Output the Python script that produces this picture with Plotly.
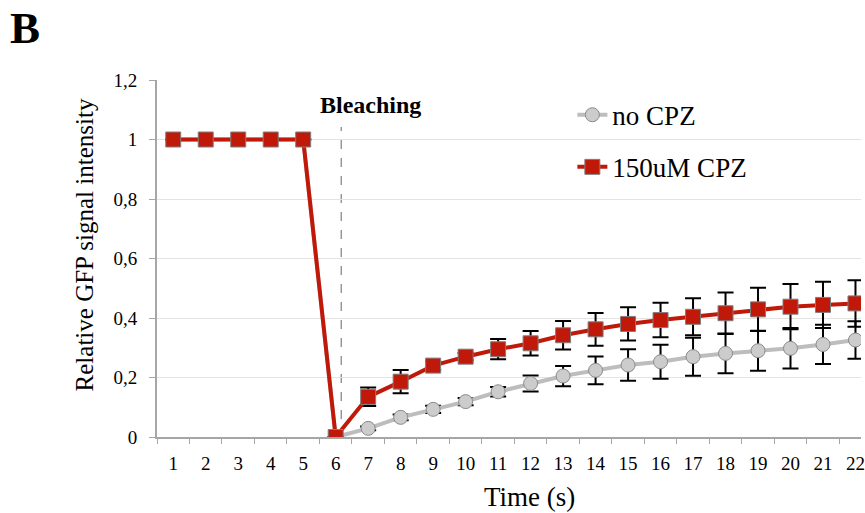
import plotly.graph_objects as go

# ---- data ----
time_s = [str(i) for i in range(1, 23)]
no_cpz = [1, 1, 1, 1, 1, 0, 0.029, 0.066, 0.093, 0.119, 0.152, 0.180, 0.205, 0.224,
          0.242, 0.253, 0.270, 0.281, 0.290, 0.298, 0.311, 0.326]
no_cpz_err = [0, 0, 0, 0, 0, 0, 0.006, 0.01, 0.012, 0.012, 0.016, 0.027, 0.034, 0.047,
              0.053, 0.057, 0.064, 0.067, 0.067, 0.068, 0.066, 0.063]
cpz150 = [1, 1, 1, 1, 1, 0, 0.135, 0.186, 0.240, 0.270, 0.295, 0.315, 0.342, 0.362,
          0.380, 0.393, 0.404, 0.416, 0.429, 0.438, 0.444, 0.449]
cpz150_err = [0, 0, 0, 0, 0, 0, 0.031, 0.039, 0.015, 0.012, 0.034, 0.041, 0.048, 0.055,
              0.056, 0.058, 0.062, 0.070, 0.073, 0.076, 0.078, 0.078]
y_tickvals = [0, 0.2, 0.4, 0.6, 0.8, 1.0, 1.2]
y_ticktext = ["0", "0,2", "0,4", "0,6", "0,8", "1", "1,2"]
series_names = ["no CPZ", "150uM CPZ"]
bleach_x = 5.17  # category index position of the bleaching line

FONT = "Liberation Serif, Times New Roman, serif"

fig = go.Figure()
fig.add_trace(go.Scatter(
    x=time_s, y=no_cpz, name=series_names[0], mode="lines+markers",
    line=dict(color="#BDBDBD", width=4),
    marker=dict(symbol="circle", size=14, color="#CCCCCC", line=dict(color="#8A8A8A", width=1)),
    error_y=dict(type="data", array=no_cpz_err, visible=True, color="black", thickness=2, width=8),
    legendgroup="a",
))
fig.add_trace(go.Scatter(
    x=time_s, y=cpz150, name=series_names[1], mode="lines+markers",
    line=dict(color="#C0190A", width=4),
    marker=dict(symbol="square", size=15, color="#C0190A", line=dict(color="#7F7F7F", width=1)),
    error_y=dict(type="data", array=cpz150_err, visible=True, color="black", thickness=2, width=8),
    legendgroup="b",
))

fig.add_shape(type="line", xref="x", yref="y", x0=bleach_x, x1=bleach_x, y0=0, y1=1.042,
              line=dict(color="#666666", width=1, dash="dash"), layer="below")

fig.add_annotation(text="<b>Bleaching</b>", xref="x", yref="y", x=6.06, y=1.115,
                   showarrow=False, font=dict(family=FONT, size=24, color="black"))
fig.add_annotation(text="<b>B</b>", xref="paper", yref="paper", x=-0.212, y=1.145,
                   xanchor="left", yanchor="middle", showarrow=False,
                   font=dict(family=FONT, size=45, color="black"))
fig.add_annotation(text="Time (s)", xref="paper", yref="paper", x=0.529, y=-0.168,
                   xanchor="center", yanchor="middle", showarrow=False,
                   font=dict(family=FONT, size=27, color="black"))
fig.add_annotation(text="Relative GFP signal intensity", xref="paper", yref="paper",
                   x=-0.103, y=0.538, textangle=-90, xanchor="center", yanchor="middle",
                   showarrow=False, font=dict(family=FONT, size=25, color="black"))

fig.update_layout(
    width=865, height=513,
    margin=dict(l=157, r=0, t=80, b=76),
    paper_bgcolor="white", plot_bgcolor="white",
    font=dict(family=FONT, size=19, color="black"),
    showlegend=True,
    legend=dict(x=0.59, y=0.97, xanchor="left", yanchor="top",
                font=dict(family=FONT, size=27, color="black"),
                bgcolor="rgba(0,0,0,0)", traceorder="grouped", tracegroupgap=14),
)
fig.update_xaxes(
    type="category", range=[-0.5, 21.17], tickson="boundaries",
    showgrid=False, showline=True, linecolor="#A6A6A6", linewidth=2,
    ticks="outside", ticklen=5, tickcolor="#A6A6A6", tickwidth=1,
    ticklabelstandoff=8, tickfont=dict(family=FONT, size=19), zeroline=False,
)
fig.update_yaxes(
    range=[0, 1.2], tickvals=y_tickvals, ticktext=y_ticktext,
    showgrid=True, gridcolor="#E3E3E3", gridwidth=1,
    showline=True, linecolor="#A6A6A6", linewidth=2,
    ticks="outside", ticklen=6, tickcolor="#A6A6A6", tickwidth=1,
    ticklabelstandoff=8, tickfont=dict(family=FONT, size=19), zeroline=False,
)

fig.write_html("out.html")
